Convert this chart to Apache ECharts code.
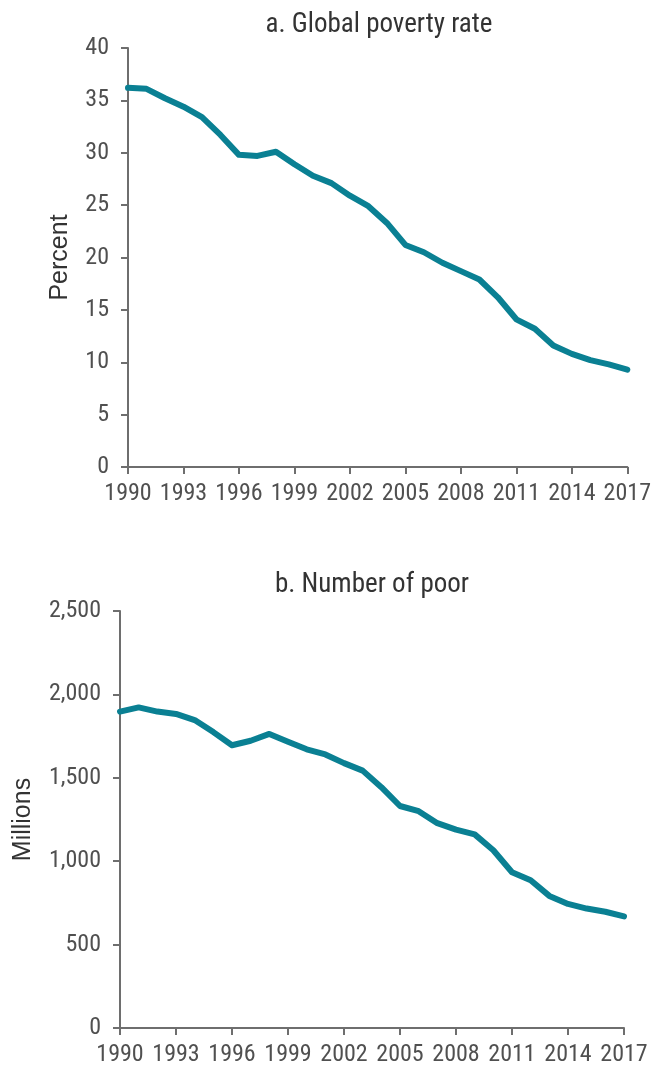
<!DOCTYPE html>
<html>
<head>
<meta charset="utf-8">
<script src="https://cdn.jsdelivr.net/npm/echarts@6/dist/echarts.min.js"></script>
<style>
  html, body { margin: 0; padding: 0; background: #fff; }
  #chart { width: 654px; height: 1067px; }
</style>
</head>
<body>
<div id="chart"></div>
<script>
// Years shown on both panels
const years = [
  '1990','1991','1992','1993','1994','1995','1996','1997','1998','1999',
  '2000','2001','2002','2003','2004','2005','2006','2007','2008','2009',
  '2010','2011','2012','2013','2014','2015','2016','2017'
];

// a. Global poverty rate (percent)
const povertyRate = [
  36.2, 36.1, 35.2, 34.4, 33.4, 31.7, 29.8, 29.7, 30.1, 28.9,
  27.8, 27.1, 25.9, 24.9, 23.3, 21.2, 20.5, 19.5, 18.7, 17.9,
  16.2, 14.1, 13.2, 11.6, 10.8, 10.2, 9.8, 9.3
];

// b. Number of poor (millions)
const numberPoor = [
  1897, 1922, 1897, 1883, 1846, 1774, 1695, 1722, 1763, 1716,
  1671, 1640, 1588, 1543, 1444, 1331, 1300, 1228, 1189, 1161,
  1066, 934, 886, 792, 744, 716, 697, 669
];

const rateTicks = { min: 0, max: 40, interval: 5 };
const poorTicks = { min: 0, max: 2500, interval: 500 };

const FONT = '"Roboto Condensed", "Open Sans", sans-serif';
const NAME_FONT = '"Liberation Sans", Arial, sans-serif';
const LINE_COLOR = '#0a8093';
const AXIS_COLOR = '#6e6e6e';
const LABEL_COLOR = '#505050';

function xAxisFor(gridIndex) {
  return {
    type: 'category',
    gridIndex: gridIndex,
    data: years,
    boundaryGap: false,
    axisLine: { lineStyle: { color: AXIS_COLOR, width: 2 } },
    axisTick: { show: true, interval: 2, length: 7, lineStyle: { color: AXIS_COLOR, width: 2 } },
    axisLabel: { interval: 2, color: LABEL_COLOR, fontFamily: FONT, fontSize: 24, margin: 15 },
    splitLine: { show: false }
  };
}

function yAxisFor(gridIndex, ticks, name, nameGap, fmt) {
  return {
    type: 'value',
    gridIndex: gridIndex,
    min: ticks.min,
    max: ticks.max,
    interval: ticks.interval,
    name: name,
    nameLocation: 'middle',
    nameGap: nameGap,
    nameTextStyle: { color: '#333333', fontFamily: NAME_FONT, fontSize: 25 },
    axisLine: { show: true, lineStyle: { color: AXIS_COLOR, width: 2 } },
    axisTick: { show: true, length: 7, lineStyle: { color: AXIS_COLOR, width: 2 } },
    axisLabel: { color: LABEL_COLOR, fontFamily: FONT, fontSize: 24, margin: 19, formatter: fmt },
    splitLine: { show: false }
  };
}

const chart = echarts.init(document.getElementById('chart'), null, { renderer: 'canvas' });

chart.setOption({
  backgroundColor: '#ffffff',
  animation: false,
  title: [
    {
      text: 'a. Global poverty rate',
      left: 379, top: 12, textAlign: 'center', padding: 0,
      textStyle: { color: '#333333', fontFamily: FONT, fontSize: 27, fontWeight: 'normal' }
    },
    {
      text: 'b. Number of poor',
      left: 372, top: 572, textAlign: 'center', padding: 0,
      textStyle: { color: '#333333', fontFamily: FONT, fontSize: 27, fontWeight: 'normal' }
    }
  ],
  grid: [
    { left: 128, right: 22, top: 48, bottom: 600 },
    { left: 120, right: 30, top: 611, bottom: 38 }
  ],
  xAxis: [xAxisFor(0), xAxisFor(1)],
  yAxis: [
    yAxisFor(0, rateTicks, 'Percent', 55, v => String(v)),
    yAxisFor(1, poorTicks, 'Millions', 84, v => v.toLocaleString('en-US'))
  ],
  series: [
    {
      type: 'line', xAxisIndex: 0, yAxisIndex: 0, data: povertyRate,
      symbol: 'none', smooth: false,
      lineStyle: { color: LINE_COLOR, width: 6, cap: 'round', join: 'round' }
    },
    {
      type: 'line', xAxisIndex: 1, yAxisIndex: 1, data: numberPoor,
      symbol: 'none', smooth: false,
      lineStyle: { color: LINE_COLOR, width: 6, cap: 'round', join: 'round' }
    }
  ]
});
</script>
</body>
</html>
